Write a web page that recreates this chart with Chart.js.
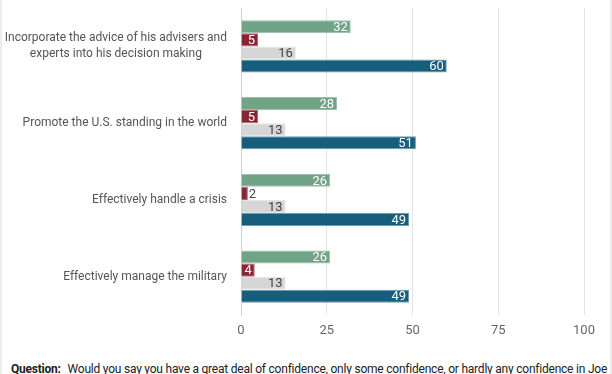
<!DOCTYPE html>
<html>
<head>
<meta charset="utf-8">
<script src="https://cdn.jsdelivr.net/npm/chart.js@4"></script>
<style>
    html, body { margin: 0; padding: 0; background: #fff; }
    body { width: 612px; height: 374px; position: relative; overflow: hidden; font-family: Roboto, sans-serif; }
    .frame { position: absolute; left: 0; top: 0; width: 608px; height: 374px; border-left: 2px solid #ececec; border-right: 2px solid #ececec; }
    #wrap { position: absolute; left: 0; top: 0; width: 612px; height: 345px; }
    .question { position: absolute; left: 11px; top: 362px; font-size: 12px; line-height: 14px; color: #222; white-space: nowrap; letter-spacing: -0.22px; }
    .question b { font-weight: 700; margin-right: 4px; }
</style>
</head>
<body>
<div class="frame"></div>
<div id="wrap"><canvas id="chart"></canvas></div>
<div class="question"><b>Question:</b> Would you say you have a great deal of confidence, only some confidence, or hardly any confidence in Joe</div>
<script>
// --- Data ---
const categories = [
    ['Incorporate the advice of his advisers and', 'experts into his decision making'],
    'Promote the U.S. standing in the world',
    'Effectively handle a crisis',
    'Effectively manage the military'
];
const greenValues = [32, 28, 26, 26];
const redValues = [5, 5, 2, 4];
const grayValues = [16, 13, 13, 13];
const blueValues = [60, 51, 49, 49];
const xTicks = [0, 25, 50, 75, 100];

// --- Bar value labels ---
const valueLabels = {
    id: 'valueLabels',
    afterDatasetsDraw(chart) {
        const ctx = chart.ctx;
        ctx.save();
        ctx.font = '13px Roboto, sans-serif';
        ctx.textBaseline = 'middle';
        chart.data.datasets.forEach((ds, i) => {
            const meta = chart.getDatasetMeta(i);
            meta.data.forEach((bar, j) => {
                const text = String(ds.data[j]);
                const w = ctx.measureText(text).width;
                const barLen = bar.x - bar.base;
                if (barLen > w + 5) {
                    ctx.textAlign = 'right';
                    ctx.fillStyle = ds.labelColor;
                    ctx.fillText(text, bar.x - 3, bar.y + 1);
                } else {
                    ctx.textAlign = 'left';
                    ctx.fillStyle = '#444';
                    ctx.fillText(text, bar.x + 1, bar.y + 1);
                }
            });
        });
        ctx.restore();
    }
};

// --- Category labels: block right-aligned at the axis, lines centred ---
const categoryLabels = {
    id: 'categoryLabels',
    afterDraw(chart) {
        const ctx = chart.ctx;
        const yScale = chart.scales.y;
        const right = yScale.right - 14;
        const lineH = 16;
        ctx.save();
        ctx.font = '12px Roboto, sans-serif';
        ctx.fillStyle = '#555';
        ctx.textAlign = 'center';
        ctx.textBaseline = 'middle';
        chart.data.labels.forEach((label, i) => {
            const lines = Array.isArray(label) ? label : [label];
            const maxW = Math.max(...lines.map(l => ctx.measureText(l).width));
            const cx = right - maxW / 2;
            const y0 = yScale.getPixelForTick(i) - (lines.length - 1) * lineH / 2;
            lines.forEach((l, k) => ctx.fillText(l, cx, y0 + k * lineH));
        });
        ctx.restore();
    }
};

const ctx = document.getElementById('chart').getContext('2d');
new Chart(ctx, {
    type: 'bar',
    data: {
        labels: categories,
        datasets: [
            { label: 'Green', data: greenValues, backgroundColor: '#71a387', borderColor: '#9cc2ab', labelColor: '#ffffff' },
            { label: 'Red', data: redValues, backgroundColor: '#8a2433', borderColor: '#b0646f', labelColor: '#ffffff' },
            { label: 'Gray', data: grayValues, backgroundColor: '#d6d6d6', borderColor: '#e6e6e6', labelColor: '#444444' },
            { label: 'Blue', data: blueValues, backgroundColor: '#175d7c', borderColor: '#6e9bb0', labelColor: '#ffffff' }
        ]
    },
    options: {
        indexAxis: 'y',
        responsive: true,
        maintainAspectRatio: false,
        animation: false,
        datasets: {
            bar: { barPercentage: 1, categoryPercentage: 0.68, borderWidth: 1, borderSkipped: 'start' }
        },
        layout: { padding: { top: 8, right: 28, left: 0, bottom: 0 } },
        plugins: {
            legend: { display: false },
            tooltip: { enabled: false }
        },
        scales: {
            x: {
                min: 0,
                max: 100,
                afterBuildTicks: (scale) => { scale.ticks = xTicks.map(v => ({ value: v })); },
                afterFit: (scale) => { scale.height = 30; },
                grid: { color: '#e3e3e3', drawTicks: false },
                border: { display: false },
                ticks: { color: '#666', font: { family: 'Roboto', size: 13 }, padding: 8 }
            },
            y: {
                afterFit: (scale) => { scale.width = 241; scale.paddingTop = 0; scale.paddingBottom = 0; },
                grid: { display: false, drawTicks: false },
                border: { display: true, color: '#d0d0d0' },
                ticks: { display: false }
            }
        }
    },
    plugins: [valueLabels, categoryLabels]
});
</script>
</body>
</html>
